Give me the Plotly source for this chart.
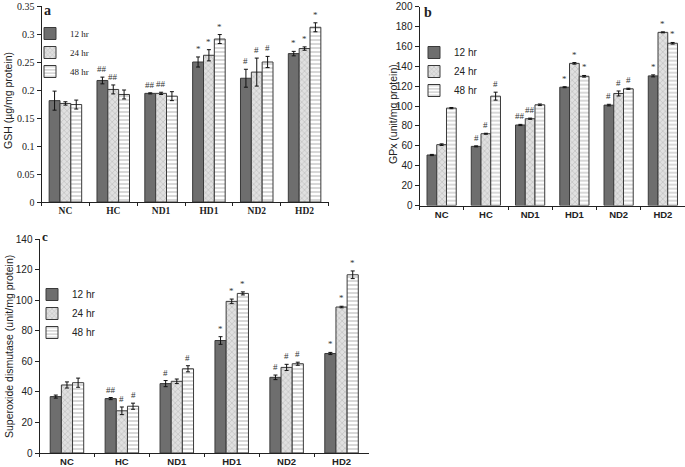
import plotly.graph_objects as go

categories = ["NC", "HC", "ND1", "HD1", "ND2", "HD2"]
series_names = ["12 hr", "24 hr", "48 hr"]

# Panel a: GSH
gsh_12 = [0.181, 0.217, 0.194, 0.250, 0.221, 0.265]
gsh_24 = [0.176, 0.201, 0.194, 0.262, 0.232, 0.274]
gsh_48 = [0.174, 0.192, 0.189, 0.291, 0.250, 0.312]
gsh_12_err = [0.017, 0.006, 0.001, 0.009, 0.016, 0.004]
gsh_24_err = [0.003, 0.008, 0.002, 0.010, 0.025, 0.003]
gsh_48_err = [0.008, 0.008, 0.008, 0.008, 0.010, 0.008]
gsh_12_sig = ["", "##", "##", "*", "#", "*"]
gsh_24_sig = ["", "##", "##", "*", "#", "*"]
gsh_48_sig = ["", "", "", "*", "#", "*"]

# Panel b: GPx
gpx_12 = [50.8, 59.5, 81.0, 119.0, 101.0, 130.4]
gpx_24 = [61.2, 72.2, 87.3, 143.0, 112.7, 174.2]
gpx_48 = [98.0, 110.0, 101.3, 130.0, 117.4, 163.2]
gpx_12_err = [0.6, 0.5, 0.6, 0.5, 0.8, 1.0]
gpx_24_err = [0.8, 0.5, 0.6, 0.8, 2.5, 0.5]
gpx_48_err = [0.6, 4.0, 0.8, 0.8, 0.6, 0.8]
gpx_12_sig = ["", "#", "##", "*", "#", "*"]
gpx_24_sig = ["", "#", "##", "*", "#", "*"]
gpx_48_sig = ["", "#", "", "*", "#", "*"]

# Panel c: Superoxide dismutase
sod_12 = [36.9, 35.6, 45.4, 73.6, 49.5, 65.1]
sod_24 = [44.5, 27.6, 46.9, 99.2, 56.0, 95.5]
sod_48 = [46.0, 30.6, 55.1, 104.4, 58.4, 116.6]
sod_12_err = [1.0, 0.7, 2.0, 2.5, 1.5, 0.7]
sod_24_err = [2.0, 2.5, 1.5, 1.5, 2.0, 0.5]
sod_48_err = [3.0, 2.0, 2.0, 1.0, 1.0, 2.5]
sod_12_sig = ["", "##", "#", "*", "#", "*"]
sod_24_sig = ["", "#", "", "*", "#", "*"]
sod_48_sig = ["", "#", "#", "*", "#", "*"]

W, H = 685, 467

def px_x(x):
    return x / W

def px_y(y):
    return 1 - y / H

styles = [
    dict(color="#6e6e6e", pattern=None),
    dict(color="#d0d0d0", pattern=dict(shape="x", fgcolor="#8a8a8a", bgcolor="#e0e0e0", size=4, solidity=0.25)),
    dict(color="#ffffff", pattern=dict(shape="-", fgcolor="#a8a8a8", bgcolor="#ffffff", size=4, solidity=0.45)),
]

panels = [
    dict(ax="", vals=[gsh_12, gsh_24, gsh_48], errs=[gsh_12_err, gsh_24_err, gsh_48_err],
         sigs=[gsh_12_sig, gsh_24_sig, gsh_48_sig], group=0.68, legend="legend",
         xdom=[px_x(41.5), px_x(328.5)], ydom=[px_y(202), px_y(6)], yrange=[0, 0.35], dtick=0.05,
         font="Liberation Serif"),
    dict(ax="2", vals=[gpx_12, gpx_24, gpx_48], errs=[gpx_12_err, gpx_24_err, gpx_48_err],
         sigs=[gpx_12_sig, gpx_24_sig, gpx_48_sig], group=0.66, legend="legend2",
         xdom=[px_x(419.5), px_x(685)], ydom=[px_y(205.5), px_y(6.7)], yrange=[0, 200], dtick=20,
         font="Liberation Sans"),
    dict(ax="3", vals=[sod_12, sod_24, sod_48], errs=[sod_12_err, sod_24_err, sod_48_err],
         sigs=[sod_12_sig, sod_24_sig, sod_48_sig], group=0.61, legend="legend3",
         xdom=[px_x(39.5), px_x(369)], ydom=[px_y(453), px_y(239)], yrange=[0, 140], dtick=20,
         font="Liberation Sans"),
]

fig = go.Figure()
annotations = []
for p in panels:
    w = p["group"] / 3
    for i in range(3):
        st = styles[i]
        marker = dict(color=st["color"], line=dict(color="#3a3a3a", width=1))
        if st["pattern"]:
            marker["pattern"] = st["pattern"]
        off = -p["group"] / 2 + i * w
        fig.add_trace(go.Bar(
            x=categories, y=p["vals"][i], name=series_names[i],
            width=w, offset=off,
            marker=marker,
            error_y=dict(type="data", array=p["errs"][i], color="#111111", thickness=1, width=2),
            xaxis="x" + p["ax"], yaxis="y" + p["ax"], legend=p["legend"],
        ))
        for j, s in enumerate(p["sigs"][i]):
            if s:
                annotations.append(dict(
                    x=j + off + w / 2, y=p["vals"][i][j] + p["errs"][i][j],
                    xref="x" + p["ax"], yref="y" + p["ax"], text=s, showarrow=False,
                    xanchor="center", yanchor="bottom", yshift=1,
                    font=dict(family="Liberation Serif", size=9, color="#333333"),
                ))

layout = dict(
    width=W, height=H, margin=dict(l=0, r=0, t=0, b=0, autoexpand=False),
    paper_bgcolor="white", plot_bgcolor="white", barmode="overlay",
    showlegend=True,
)
for p in panels:
    font = p["font"]
    layout["xaxis" + p["ax"]] = dict(
        domain=p["xdom"], anchor="y" + p["ax"], type="category", range=[-0.5, 5.5],
        showline=True, linecolor="#222", linewidth=1, ticks="outside", ticklen=3,
        tickson="boundaries", tickcolor="#222", showgrid=False, automargin=False,
        tickfont=dict(family=font, size=9.5, color="#222", weight="bold"),
    )
    layout["yaxis" + p["ax"]] = dict(
        domain=p["ydom"], anchor="x" + p["ax"], range=p["yrange"], dtick=p["dtick"],
        showline=True, linecolor="#222", linewidth=1, ticks="outside", ticklen=4,
        tickcolor="#222", showgrid=False, zeroline=False, automargin=False,
        tickfont=dict(family=font, size=10, color="#222"),
    )

layout["legend"] = dict(x=px_x(30), y=px_y(19), xanchor="left", yanchor="top",
                        bgcolor="rgba(0,0,0,0)", font=dict(family="Liberation Serif", size=9, color="#222"),
                        tracegroupgap=0)
layout["legend2"] = dict(x=px_x(414), y=px_y(38), xanchor="left", yanchor="top",
                         bgcolor="rgba(0,0,0,0)", font=dict(family="Liberation Sans", size=10, color="#222"),
                         tracegroupgap=0)
layout["legend3"] = dict(x=px_x(32), y=px_y(280), xanchor="left", yanchor="top",
                         bgcolor="rgba(0,0,0,0)", font=dict(family="Liberation Sans", size=10, color="#222"),
                         tracegroupgap=0)

# Axis titles and panel letters
common = dict(xref="paper", yref="paper", showarrow=False, xanchor="center", yanchor="middle")
annotations += [
    dict(x=px_x(8), y=px_y(101), text="GSH (µg/mg protein)", textangle=-90,
         font=dict(family="Liberation Sans", size=10.5, color="#222"), **common),
    dict(x=px_x(393), y=px_y(114), text="GPx (unit/mg protein)", textangle=-90,
         font=dict(family="Liberation Sans", size=10.5, color="#222"), **common),
    dict(x=px_x(9), y=px_y(347), text="Superoxide dismutase (unit/mg protein)", textangle=-90,
         font=dict(family="Liberation Sans", size=10.5, color="#222"), **common),
    dict(x=px_x(47), y=px_y(10), text="<b>a</b>",
         font=dict(family="Liberation Serif", size=14, color="#222"), **common),
    dict(x=px_x(428), y=px_y(13), text="<b>b</b>",
         font=dict(family="Liberation Serif", size=14, color="#222"), **common),
    dict(x=px_x(45), y=px_y(236), text="<b>c</b>",
         font=dict(family="Liberation Serif", size=13, color="#222"), **common),
]
layout["annotations"] = annotations
fig.update_layout(**layout)
fig.write_html("out.html", config={"displayModeBar": False},
               post_script="document.body.style.margin='0px';document.body.style.overflow='hidden';")
